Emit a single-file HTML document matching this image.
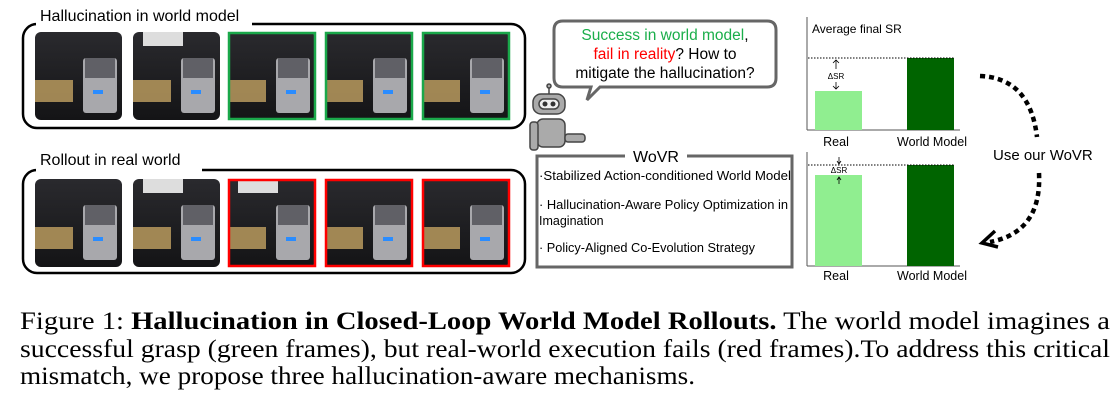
<!DOCTYPE html>
<html><head><style>
body{margin:0;background:#fff;width:1118px;height:401px;overflow:hidden}
svg{display:block}
</style></head><body>
<svg width="1118" height="401" viewBox="0 0 1118 401" xmlns="http://www.w3.org/2000/svg">
<defs>
<linearGradient id="img" x1="0" y1="0" x2="0" y2="1">
<stop offset="0" stop-color="#2a2a2e"/><stop offset="1" stop-color="#141416"/>
</linearGradient>
<g id="scene">
<rect x="0" y="0" width="87" height="88" rx="6" fill="url(#img)"/>
<rect x="0" y="48" width="38" height="22" fill="#b89a5e" opacity="0.85"/>
<rect x="48" y="26" width="34" height="55" rx="3" fill="#a8a8ac"/>
<rect x="50" y="26" width="30" height="20" fill="#606066"/>
<rect x="58" y="58" width="10" height="4" fill="#2a8cff"/>
</g>
</defs>
<!-- top group -->
<rect x="23" y="24" width="502" height="104" rx="14" fill="none" stroke="#000" stroke-width="2.5"/>
<rect x="36" y="6" width="216" height="22" fill="#fff"/>
<text x="40" y="21" font-family="Liberation Sans, sans-serif" font-size="16">Hallucination in world model</text>
<use href="#scene" x="35" y="32"/><use href="#scene" x="133" y="32"/><use href="#scene" x="228" y="32"/><use href="#scene" x="325" y="32"/><use href="#scene" x="422" y="32"/>
<rect x="143" y="32" width="40" height="14" fill="#ddd"/>
<rect x="229" y="33" width="86" height="86" fill="none" stroke="#1aa84a" stroke-width="2.5"/>
<rect x="326" y="33" width="86" height="86" fill="none" stroke="#1aa84a" stroke-width="2.5"/>
<rect x="423" y="33" width="86" height="86" fill="none" stroke="#1aa84a" stroke-width="2.5"/>
<!-- bottom group -->
<rect x="23" y="170" width="502" height="103" rx="14" fill="none" stroke="#000" stroke-width="2.5"/>
<rect x="36" y="150" width="166" height="22" fill="#fff"/>
<text x="40" y="165" font-family="Liberation Sans, sans-serif" font-size="16">Rollout in real world</text>
<use href="#scene" x="35" y="179"/><use href="#scene" x="133" y="179"/><use href="#scene" x="228" y="179"/><use href="#scene" x="325" y="179"/><use href="#scene" x="422" y="179"/>
<rect x="143" y="179" width="40" height="14" fill="#ddd"/><rect x="238" y="179" width="40" height="14" fill="#ddd"/>
<rect x="229" y="180" width="86" height="86" fill="none" stroke="#f00" stroke-width="2.5"/>
<rect x="326" y="180" width="86" height="86" fill="none" stroke="#f00" stroke-width="2.5"/>
<rect x="423" y="180" width="86" height="86" fill="none" stroke="#f00" stroke-width="2.5"/>
<!-- speech bubble -->
<path d="M563 21 H767 Q776 21 776 30 V78 Q776 87 767 87 H600 L587 100 L591 87 H563 Q554 87 554 78 V30 Q554 21 563 21 Z" fill="#fff" stroke="#666" stroke-width="3"/>
<text x="665" y="40" text-anchor="middle" font-family="Liberation Sans, sans-serif" font-size="15.5"><tspan fill="#1aae4a">Success in world model</tspan>,</text>
<text x="665" y="59" text-anchor="middle" font-family="Liberation Sans, sans-serif" font-size="15.5"><tspan fill="#f00">fail in reality</tspan>?  How to</text>
<text x="665" y="78" text-anchor="middle" font-family="Liberation Sans, sans-serif" font-size="15.5">mitigate the hallucination?</text>
<!-- robot -->
<g stroke="#444" stroke-width="1.5" fill="#aaa">
<line x1="549" y1="86" x2="549" y2="94"/><circle cx="549" cy="86" r="2"/>
<rect x="533" y="94" width="32" height="20" rx="8"/>
<rect x="539" y="99" width="20" height="10" rx="5" fill="#eee"/>
<rect x="537" y="119" width="28" height="28" rx="6"/>
<rect x="565" y="134" width="20" height="8" rx="3"/>
<rect x="530" y="122" width="8" height="28" rx="3"/>
</g>
<circle cx="545" cy="104" r="2.5" fill="#333"/><circle cx="553" cy="104" r="2.5" fill="#333"/>
<!-- WoVR box -->
<rect x="537" y="156" width="255" height="111" fill="none" stroke="#666" stroke-width="3"/>
<rect x="625" y="145" width="62" height="20" fill="#fff"/>
<text x="656" y="162" text-anchor="middle" font-family="Liberation Sans, sans-serif" font-size="16">WoVR</text>
<g font-family="Liberation Sans, sans-serif" font-size="12.5">
<text x="539" y="180" textLength="252" lengthAdjust="spacingAndGlyphs">·Stabilized Action-conditioned World Model</text>
<text x="539" y="209" textLength="249" lengthAdjust="spacingAndGlyphs">· Hallucination-Aware Policy Optimization in</text>
<text x="539" y="225">Imagination</text>
<text x="539" y="252" textLength="216" lengthAdjust="spacingAndGlyphs">· Policy-Aligned Co-Evolution Strategy</text>
</g>
<!-- chart 1 -->
<line x1="807" y1="17" x2="807" y2="130" stroke="#555"/>
<line x1="807" y1="130" x2="960" y2="130" stroke="#555"/>
<text x="812" y="33" font-family="Liberation Sans, sans-serif" font-size="12">Average final SR</text>
<rect x="815" y="91" width="47" height="39" fill="#90ee90"/>
<rect x="907" y="58" width="47" height="72" fill="#006400"/>
<line x1="808" y1="58" x2="955" y2="58" stroke="#000" stroke-dasharray="1.5 1.5"/>
<text x="836" y="79" text-anchor="middle" font-family="Liberation Sans, sans-serif" font-size="8">ΔSR</text>
<path d="M836 60 V69 M833 63 L836 60 L839 63 M836 82 V89 M833 86 L836 89 L839 86" stroke="#000" stroke-width="0.8" fill="none"/>
<text x="836" y="146" text-anchor="middle" font-family="Liberation Sans, sans-serif" font-size="12.5">Real</text>
<text x="932" y="146" text-anchor="middle" font-family="Liberation Sans, sans-serif" font-size="12.5">World Model</text>
<!-- chart 2 -->
<line x1="807" y1="152" x2="807" y2="266" stroke="#555"/>
<line x1="807" y1="266" x2="960" y2="266" stroke="#555"/>
<rect x="815" y="175" width="47" height="91" fill="#90ee90"/>
<rect x="907" y="165" width="47" height="101" fill="#006400"/>
<line x1="808" y1="165" x2="955" y2="165" stroke="#000" stroke-dasharray="1.5 1.5"/>
<text x="839" y="173" text-anchor="middle" font-family="Liberation Sans, sans-serif" font-size="8">ΔSR</text>
<path d="M839 157 V164 M837 161 L839 164 L841 161 M839 184 V177 M837 180 L839 177 L841 180" stroke="#000" stroke-width="0.8" fill="none"/>
<text x="836" y="280" text-anchor="middle" font-family="Liberation Sans, sans-serif" font-size="12.5">Real</text>
<text x="932" y="280" text-anchor="middle" font-family="Liberation Sans, sans-serif" font-size="12.5">World Model</text>
<!-- dashed arrow -->
<path d="M980 76 Q1030 78 1037 137" fill="none" stroke="#000" stroke-width="4.5" stroke-dasharray="5 4"/>
<path d="M1039 173 Q1042 232 990 242" fill="none" stroke="#000" stroke-width="4.5" stroke-dasharray="5 4"/>
<path d="M995 231 L982 243 L998 247" fill="none" stroke="#000" stroke-width="3.5"/>
<text x="993" y="160" font-family="Liberation Sans, sans-serif" font-size="15">Use our WoVR</text>
<!-- caption -->
<g font-family="Liberation Serif, serif" font-size="25">
<text x="20" y="329" textLength="1090" lengthAdjust="spacingAndGlyphs">Figure 1: <tspan font-weight="bold">Hallucination in Closed-Loop World Model Rollouts.</tspan>  The world model imagines a</text>
<text x="20" y="357" textLength="1090" lengthAdjust="spacingAndGlyphs">successful grasp (green frames), but real-world execution fails (red frames).To address this critical</text>
<text x="20" y="384" textLength="675" lengthAdjust="spacingAndGlyphs">mismatch, we propose three hallucination-aware mechanisms.</text>
</g>
</svg>
</body></html>
